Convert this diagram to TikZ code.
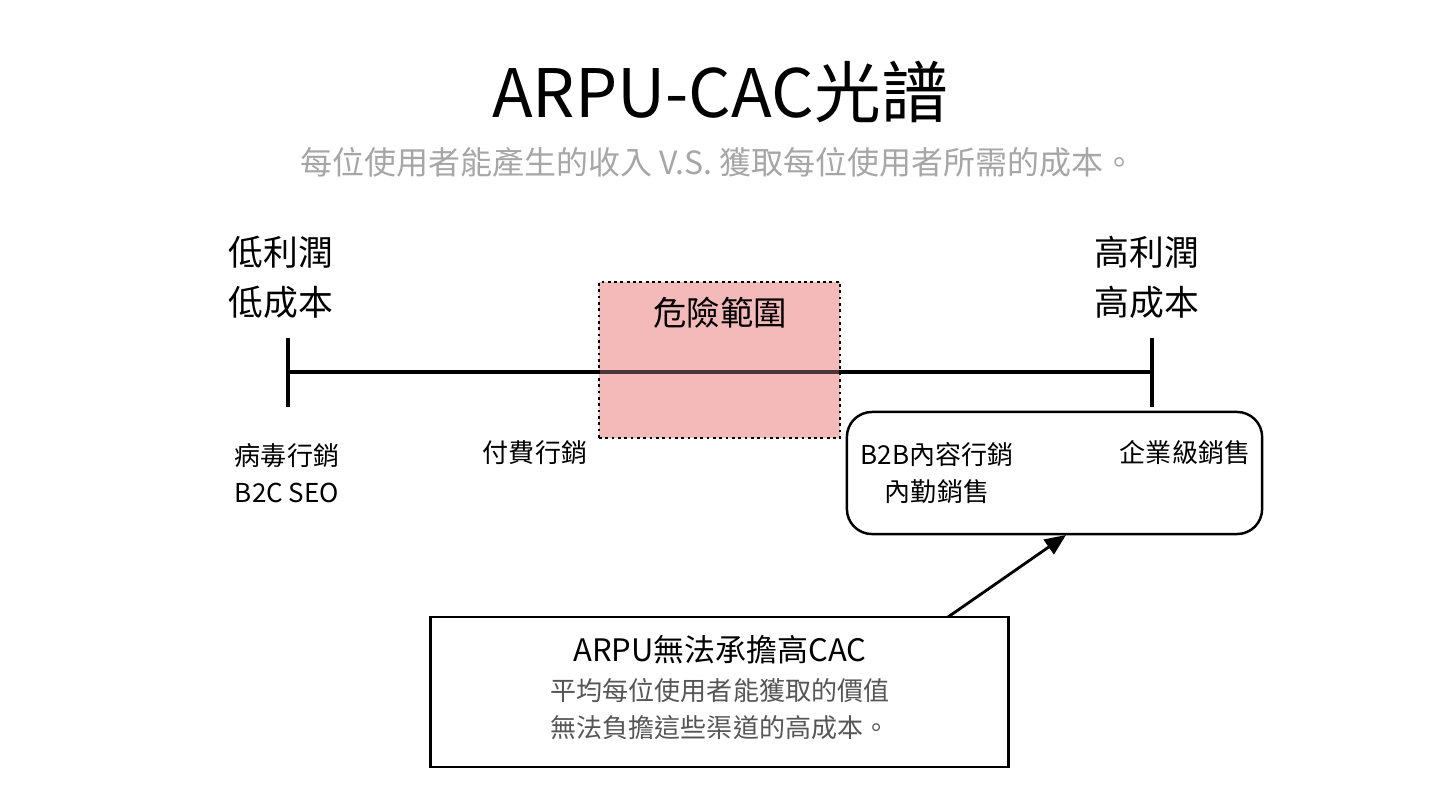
\documentclass[tikz,border=0pt]{standalone}
\usepackage{fontspec}
\setmainfont{Noto Sans CJK TC}
\usetikzlibrary{arrows.meta}
\definecolor{pinkf}{HTML}{F4B9B9}
\definecolor{graytx}{HTML}{A6A6A6}
\definecolor{darkgray}{HTML}{555555}
\begin{document}
\begin{tikzpicture}[x=0.01cm,y=-0.01cm,
  lbl/.style={font=\fontsize{9.5}{12}\selectfont, align=center, inner sep=0},
  sm/.style={font=\fontsize{7.4}{10.5}\selectfont, align=center, inner sep=0}]
\useasboundingbox (0,0) rectangle (1440,800);
\node[draw=black, densely dotted, fill=pinkf, minimum width=2.41cm, minimum height=1.56cm, inner sep=0, line width=0.8pt] (danger) at (719.5,360) {};
\node[inner sep=0, font=\fontsize{19}{22}\selectfont] (title) at (720,92) {ARPU-CAC光譜};
\node[inner sep=0, text=graytx, font=\fontsize{9.1}{10}\selectfont] (sub) at (718,162) {每位使用者能產生的收入 V.S. 獲取每位使用者所需的成本。};
\node[lbl] (dt) at (720,313) {危險範圍};
\coordinate (L) at (288,372);
\coordinate (R) at (1152,372);
\draw[line width=1.1pt] (L) -- (R);
\draw[line width=1.1pt] (288,338) -- (288,407);
\draw[line width=1.1pt] (1152,338) -- (1152,407);
\draw[line width=1.1pt, draw=black!70!pinkf] (600,372) -- (839,372);
\node[lbl, font=\fontsize{9.9}{14.3}\selectfont] (low) at (281,277) {低利潤\\低成本};
\node[lbl, font=\fontsize{9.9}{14.3}\selectfont] (high) at (1147,277) {高利潤\\高成本};
\node[sm] (viral) at (287,473) {病毒行銷\\B2C SEO};
\node[sm] (paid) at (535,453) {付費行銷};
\node[draw, line width=0.7pt, rounded corners=0.25cm, minimum width=4.15cm, minimum height=1.22cm, inner sep=0] (rbox) at (1054.5,473) {};
\node[sm] (b2b) at (937,473) {B2B內容行銷\\內勤銷售};
\node[sm] (ent) at (1185,453) {企業級銷售};
\node[draw, line width=0.8pt, minimum width=5.77cm, minimum height=1.5cm, inner sep=0] (bbox) at (719.5,692) {};
\node[inner sep=0, font=\fontsize{8.8}{10}\selectfont] (bt) at (720,650) {ARPU無法承擔高CAC};
\node[sm, text=darkgray] (bd) at (720,709.5) {平均每位使用者能獲取的價值\\無法負擔這些渠道的高成本。};
\coordinate (a1) at (948,617);
\coordinate (a2) at (1066,535);
\draw[line width=0.8pt, -{Triangle[length=6pt,width=5pt]}] (a1) -- (a2);
\end{tikzpicture}
\end{document}
